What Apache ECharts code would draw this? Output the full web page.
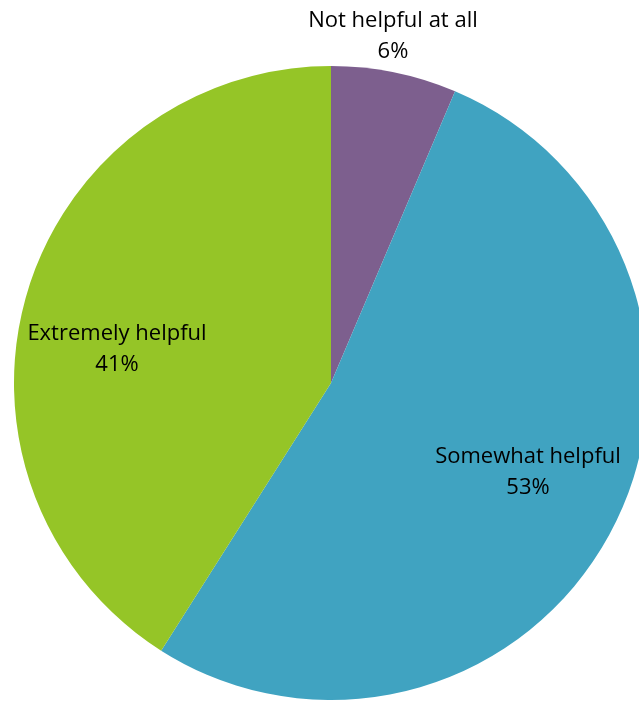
<!DOCTYPE html>
<html>
<head>
<meta charset="utf-8">
<script src="https://cdn.jsdelivr.net/npm/echarts@6/dist/echarts.min.js"></script>
<style>
html,body{margin:0;padding:0;background:#fff;}
#chart{width:639px;height:702px;}
</style>
</head>
<body>
<div id="chart"></div>
<script>
const categories = ['Not helpful at all', 'Somewhat helpful', 'Extremely helpful'];
const values = [6.4, 52.6, 41.0];
const colors = ['#7D5F8E', '#40A3C1', '#95C527'];
const labelPos = [[393, 36], [528, 472], [117, 349]];

const chart = echarts.init(document.getElementById('chart'), null, {renderer: 'canvas'});
chart.setOption({
  animation: false,
  series: [{
    type: 'pie',
    center: [331, 383],
    radius: [0, 317],
    startAngle: 90,
    clockwise: true,
    itemStyle: {borderWidth: 0},
    emphasis: {disabled: true},
    data: categories.map((c, i) => ({name: c, value: values[i], itemStyle: {color: colors[i]}})),
    label: {
      show: true,
      position: 'inside',
      formatter: p => p.name + '\n' + Math.round(p.percent) + '%',
      fontFamily: 'Open Sans',
      fontSize: 22,
      lineHeight: 31,
      color: '#000',
      align: 'center'
    },
    labelLine: {show: false},
    labelLayout: p => ({x: labelPos[p.dataIndex][0], y: labelPos[p.dataIndex][1], align: 'center', verticalAlign: 'middle'})
  }]
});
</script>
</body>
</html>
